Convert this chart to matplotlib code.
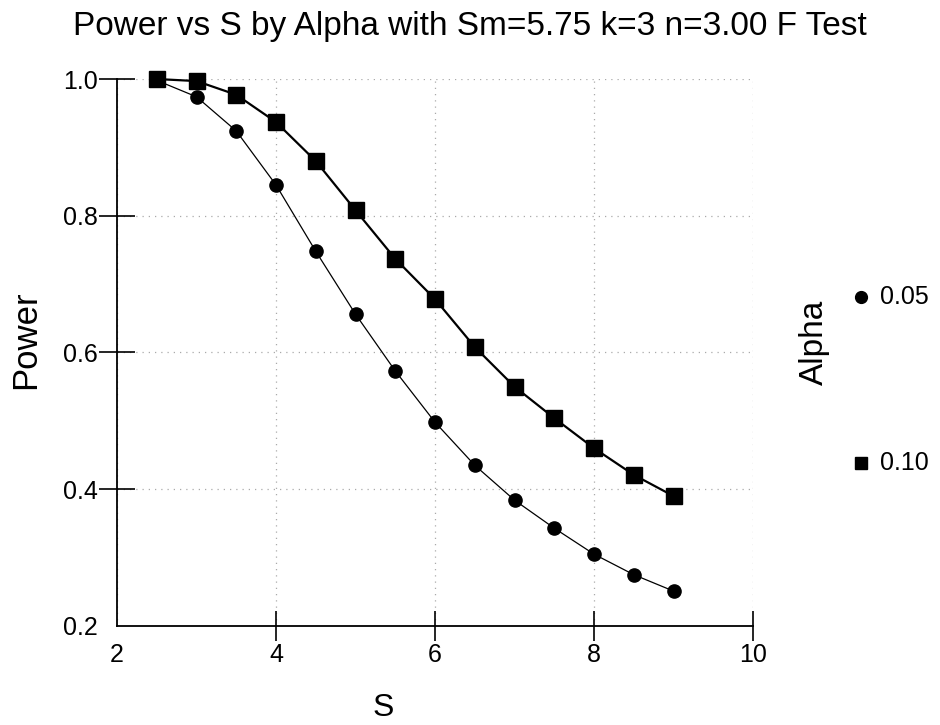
import numpy as np
import matplotlib.pyplot as plt

plt.rcParams['font.family'] = ['Liberation Sans', 'DejaVu Sans']

s_values = [2.5, 3.0, 3.5, 4.0, 4.5, 5.0, 5.5, 6.0, 6.5, 7.0, 7.5, 8.0, 8.5, 9.0]
power_a05 = [0.998, 0.974, 0.924, 0.845, 0.748, 0.656, 0.573, 0.498,
             0.435, 0.384, 0.343, 0.305, 0.275, 0.251]
power_a10 = [1.000, 0.997, 0.977, 0.937, 0.880, 0.808, 0.737, 0.678,
             0.608, 0.550, 0.504, 0.460, 0.421, 0.390]
alpha_labels = ['0.05', '0.10']
x_ticks = [2, 4, 6, 8, 10]
y_ticks = [0.2, 0.4, 0.6, 0.8, 1.0]

fig = plt.figure(figsize=(9.4, 7.25), dpi=100)
ax = fig.add_axes([0.1245, 0.1366, 0.6766, 0.7544])

ax.plot(s_values, power_a05, '-o', color='black', lw=0.9, ms=9.5, clip_on=False, zorder=3)
ax.plot(s_values, power_a10, '-s', color='black', lw=1.6, ms=11, clip_on=False, zorder=3)

ax.set_xlim(2, 10)
ax.set_ylim(0.2, 1.0)
ax.set_xticks(x_ticks)
ax.set_yticks(y_ticks)
ax.set_yticklabels(['%.1f' % v for v in y_ticks])
ax.grid(True, color='#aaaaaa', ls=(0, (1, 4)), lw=0.9)
for side in ('top', 'right'):
    ax.spines[side].set_visible(False)
for side in ('left', 'bottom'):
    ax.spines[side].set_linewidth(1.3)
ax.tick_params(axis='y', direction='inout', length=26, width=1.2, labelsize=18, pad=1)
ax.tick_params(axis='x', direction='inout', length=22, width=1.2, labelsize=18, pad=1)

# no tick marks at the corner where the axes meet
for tk in (ax.xaxis.get_major_ticks()[0], ax.yaxis.get_major_ticks()[0]):
    tk.tick1line.set_visible(False)

# titles and axis names placed in figure coordinates
fig.text(0.5, 0.9517, 'Power vs S by Alpha with Sm=5.75 k=3 n=3.00 F Test',
         fontsize=24, ha='center', va='baseline')
fig.text(383 / 940, 0.0124, 'S', fontsize=23, ha='center', va='baseline')
fig.text(26 / 940, 1 - 340 / 725, 'Power', fontsize=25, rotation=90,
         ha='center', va='center')

# legend on the right side, drawn by hand
fig.text(0.866, 1 - 342 / 725, 'Alpha', rotation=90, fontsize=24, ha='center', va='center')
for lab, mk, ms, yy in zip(alpha_labels, ['o', 's'], [8.5, 8.5], [297, 463]):
    fy = 1 - yy / 725
    fig.lines.append(plt.Line2D([861 / 940], [fy], marker=mk, color='black', ms=ms,
                                transform=fig.transFigure))
    fig.text(880 / 940, fy, lab, fontsize=18, va='center')

fig.savefig('out.png', dpi=100)
